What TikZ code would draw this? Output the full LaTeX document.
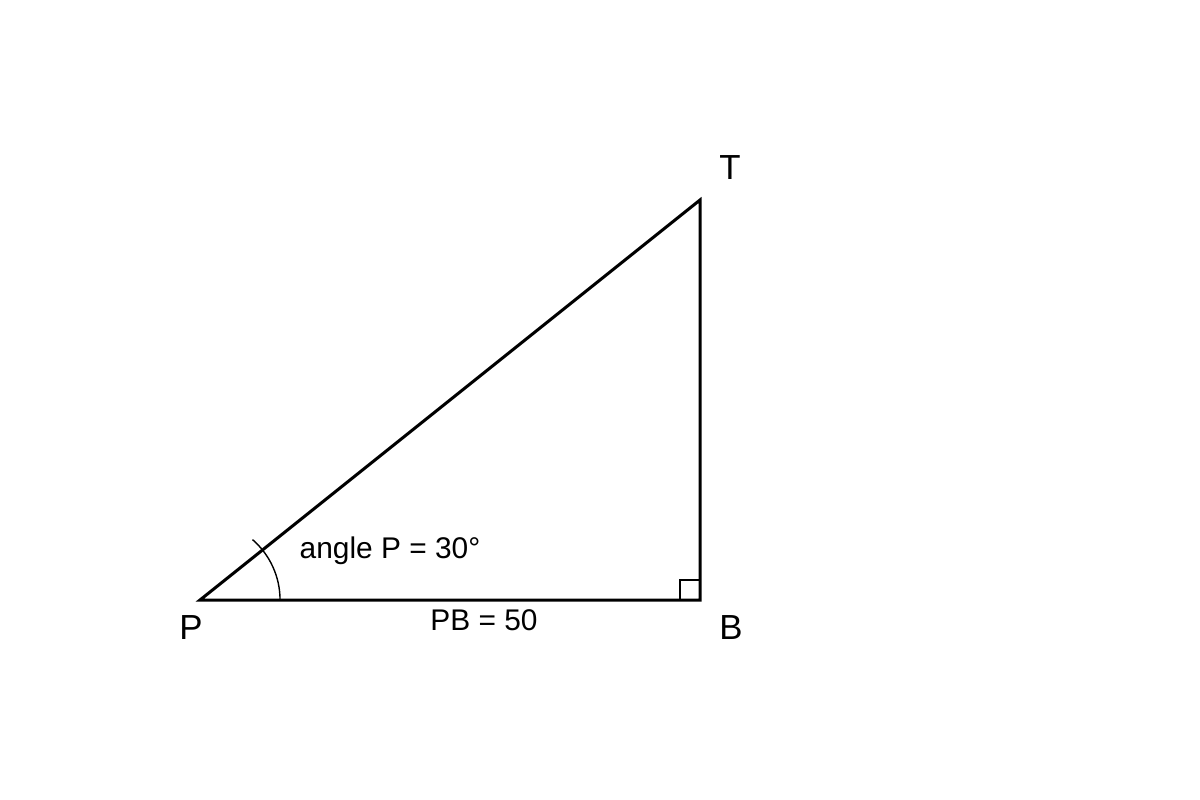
\documentclass[tikz,border=0pt]{standalone}
\usepackage{fontspec}
\setmainfont{Liberation Sans}

\begin{document}
\begin{tikzpicture}[x = 0.01 cm, y = -0.01 cm, line join = miter]

	\useasboundingbox (0, 0) rectangle (1200, 800);

	% Vertices
	
	\coordinate (P) at (200, 600);
	\coordinate (B) at (700, 600);
	\coordinate (T) at (700, 200);
	
	% Triangle
	
	\draw [line width = 0.85pt] (P) -- (B) -- (T) -- cycle;
	
	% Right angle and angle marks
	
	\draw [line width = 0.4pt] ([xshift = -0.2 cm] B) |- ([yshift = 0.2 cm] B);
	\draw [line width = 0.4pt] ([xshift = 0.8 cm] P) arc [start angle = 0, end angle = 49, radius = 0.8 cm];
	
	% Vertex labels
	
	\node [font = \fontsize{9.9}{11}\selectfont] (labelT) at (730, 168) {T};
	\node [font = \fontsize{9.9}{11}\selectfont] (labelP) at (191, 628) {P};
	\node [font = \fontsize{9.9}{11}\selectfont] (labelB) at (731, 628) {B};
	
	% Given values
	
	\node [font = \fontsize{8.5}{10}\selectfont] (angleP) at (390, 551) {angle P = 30°};
	\node [font = \fontsize{8.5}{10}\selectfont] (lengthPB) at (484, 620) {PB = 50};

\end{tikzpicture}
\end{document}
